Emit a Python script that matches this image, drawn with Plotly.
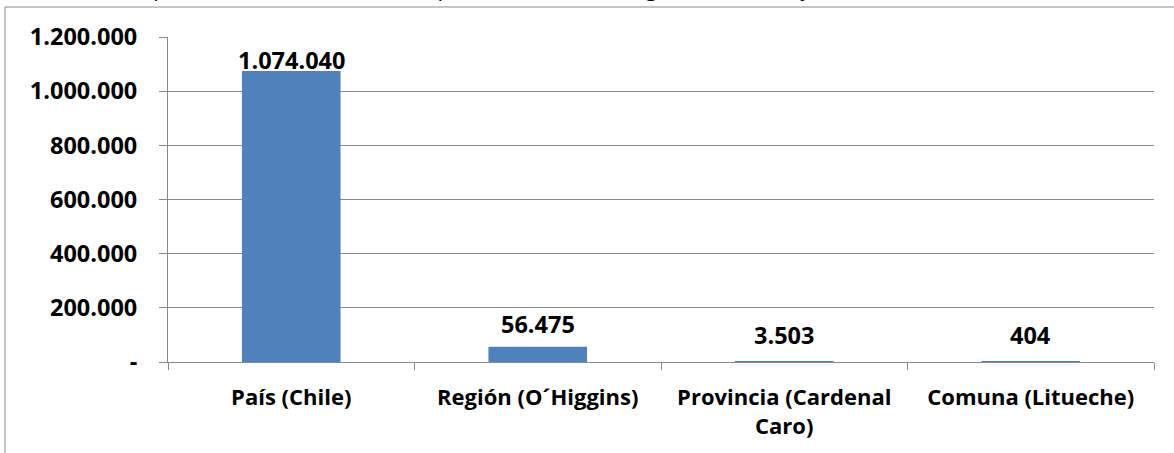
import plotly.graph_objects as go

categories = ["País (Chile)", "Región (O´Higgins)", "Provincia (Cardenal<br>Caro)", "Comuna (Litueche)"]
values = [1074040, 56475, 3503, 404]
value_labels = ["1.074.040", "56.475", "3.503", "404"]
tick_vals = [0, 200000, 400000, 600000, 800000, 1000000, 1200000]
tick_text = ["-", "200.000", "400.000", "600.000", "800.000", "1.000.000", "1.200.000"]
title_text = "Gráfico 3: Comparación del número de empresas en el País, Región, Provincia y Comuna"

label_shift = [11, 23, 26, 27]  # pixel offset of label centre above bar top (style)

FONT = "Open Sans"
GRID = "#898989"
NUM_SIZE = 23.5
CAT_SIZE = 22

fig = go.Figure()
fig.add_trace(go.Bar(x=categories, y=values, marker=dict(color="#4F81BD", line=dict(width=0)),
                     hoverinfo="x+y"))

for c, v, t, s in zip(categories, values, value_labels, label_shift):
    fig.add_annotation(x=c, y=v, xref="x", yref="y", text="<b>%s</b>" % t, showarrow=False,
                       yanchor="middle", yshift=s, font=dict(family=FONT, size=NUM_SIZE, color="#000000"))

# chart-area border (top and left visible)
fig.add_shape(type="rect", xref="paper", yref="paper", x0=-0.1653, x1=1.2, y0=-0.6, y1=1.0923,
              line=dict(color="#8c8c8c", width=1), layer="below")

# title, cropped by the top edge as in the reference
fig.add_annotation(xref="paper", yref="paper", x=-0.1704, y=1.153, xanchor="left", yanchor="middle",
                   text=title_text, showarrow=False,
                   font=dict(family=FONT, size=22, color="#000000"))

fig.update_layout(
    width=1174, height=453,
    margin=dict(l=168, r=20, t=37, b=91),
    paper_bgcolor="white", plot_bgcolor="white",
    bargap=0.6, showlegend=False,
    font=dict(family=FONT, size=CAT_SIZE, color="#000000"),
    xaxis=dict(type="category", showline=True, linecolor=GRID, linewidth=1,
               ticks="outside", tickson="boundaries", ticklen=7, tickcolor=GRID,
               tickfont=dict(family=FONT, size=CAT_SIZE, color="#000000", weight="bold"),
               showgrid=False, ticklabelstandoff=16),
    yaxis=dict(range=[0, 1200000], tickvals=tick_vals, ticktext=tick_text,
               showline=True, linecolor=GRID, linewidth=1, ticks="outside", ticklen=8,
               tickcolor=GRID, showgrid=True, gridcolor=GRID, gridwidth=1, zeroline=False,
               tickfont=dict(family=FONT, size=NUM_SIZE, color="#000000", weight="bold"),
               ticklabelstandoff=17),
)

fig.write_html("out.html", config={"displayModeBar": False},
               post_script="document.body.style.margin='0';")
